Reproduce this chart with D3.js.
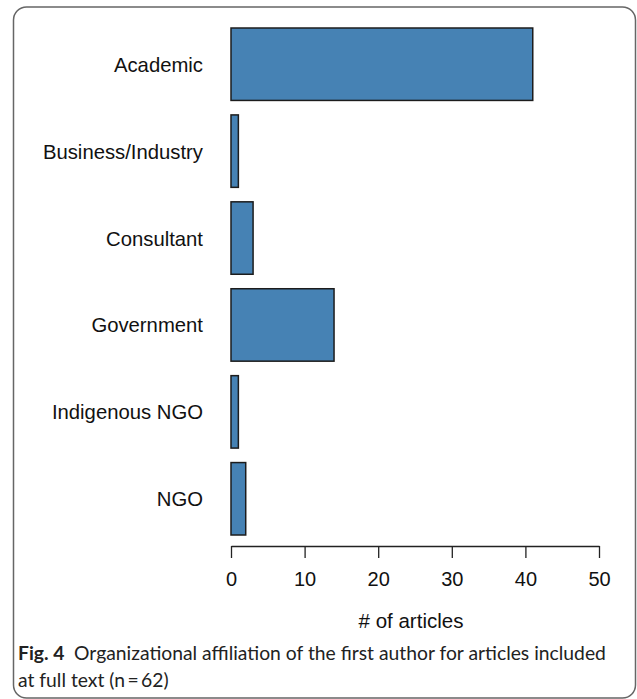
<!DOCTYPE html>
<html><head><meta charset="utf-8">
<script src="https://cdn.jsdelivr.net/npm/d3@7"></script>
<style>body{margin:0;background:#fff}svg{display:block}</style>
</head><body>
<svg id="c" width="637" height="699"></svg>
<script>
const categories = ["Academic","Business/Industry","Consultant","Government","Indigenous NGO","NGO"];
const counts = [41,1,3,14,1,2];
const xTicks = [0,10,20,30,40,50];
const xLabel = "# of articles";
const captionBold = "Fig. 4";
const captionLine1 = "Organizational affiliation of the first author for articles included";
const captionLine2 = "at full text (n\u2009=\u200962)";

const svg = d3.select("#c");
svg.append("rect").attr("x",13.5).attr("y",7).attr("width",622).attr("height",691)
  .attr("rx",13).attr("fill","none").attr("stroke","#666").attr("stroke-width",1.5);

const x = d3.scaleLinear().domain([0,50]).range([231,599]);
const y = d3.scaleBand().domain(categories).range([28,535]).paddingInner(0.1667).paddingOuter(0);

svg.selectAll("rect.bar").data(categories).enter().append("rect").attr("class","bar")
  .attr("x",x(0)).attr("y",d=>y(d))
  .attr("width",(d,i)=>x(counts[i])-x(0)).attr("height",y.bandwidth())
  .attr("fill","#4682B4").attr("stroke","#1c1c1c").attr("stroke-width",1.5);

const labelFont = "Liberation Sans, Arial, sans-serif";
svg.selectAll("text.cat").data(categories).enter().append("text").attr("class","cat")
  .attr("x",203).attr("y",d=>y(d)+y.bandwidth()/2+7.5)
  .attr("text-anchor","end").attr("font-family",labelFont)
  .attr("font-size",20.3).attr("fill","#111").text(d=>d);

const ax = svg.append("g").attr("transform","translate(0,546)")
  .call(d3.axisBottom(x).tickValues(xTicks).tickSize(12).tickPadding(7).tickSizeOuter(0));
ax.select(".domain").attr("stroke","#222").attr("stroke-width",1.3);
ax.selectAll(".tick line").attr("stroke","#222").attr("stroke-width",1.3);
ax.selectAll(".tick text").attr("font-family",labelFont)
  .attr("font-size",20).attr("fill","#111").attr("dy",null).attr("y",40);

svg.append("text").attr("x",411).attr("y",628).attr("text-anchor","middle")
  .attr("font-family",labelFont).attr("font-size",20.5).attr("fill","#111").text(xLabel);

const capFont = "Lato, Open Sans, sans-serif";
const cap = svg.append("text").attr("x",18).attr("y",660)
  .attr("font-family",capFont).attr("font-size",19.5).attr("fill","#222");
cap.append("tspan").attr("font-weight","bold").text(captionBold);
cap.append("tspan").text("\u2002"+captionLine1);
const cap2 = svg.append("text").attr("x",18).attr("y",687)
  .attr("font-family",capFont).attr("font-size",19.5).attr("fill","#222").text(captionLine2);
// fit caption width to reference line length
const w = cap.node().getComputedTextLength();
const fs = 19.5 * 588 / w;
cap.attr("font-size",fs); cap2.attr("font-size",fs);
</script>
</body></html>
